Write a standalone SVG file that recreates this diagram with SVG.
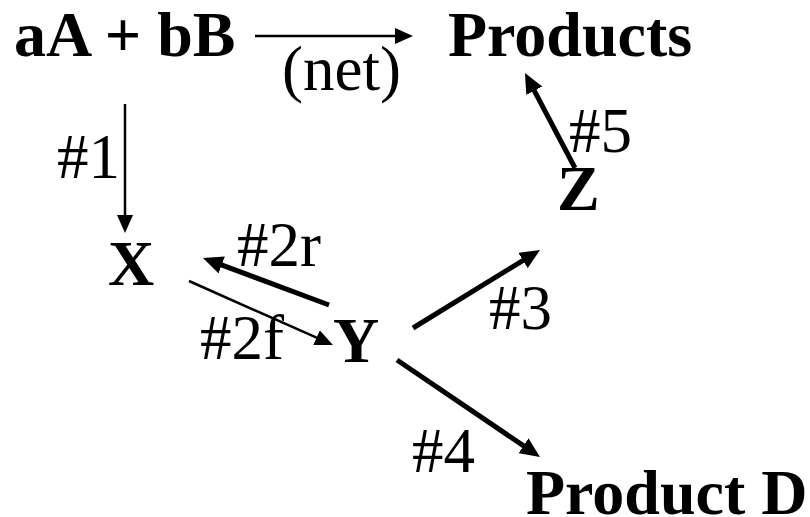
<svg xmlns="http://www.w3.org/2000/svg" width="810" height="517" viewBox="0 0 810 517">
<style>
.b{font-family:"Liberation Serif","Times New Roman",serif;font-size:64px;font-weight:bold;fill:#000}
.r{font-family:"Liberation Serif","Times New Roman",serif;font-size:63px;fill:#000}
.thin{stroke:#000;stroke-width:2.5;fill:none;marker-end:url(#hs)}
.thick{stroke:#000;stroke-width:5;fill:none;marker-end:url(#hb)}
</style>
<defs>
<marker id="hb" markerUnits="userSpaceOnUse" markerWidth="20" markerHeight="18" refX="6" refY="9" orient="auto" viewBox="0 0 20 18"><path d="M0,0 L20,9 L0,18 z" fill="#000"/></marker>
<marker id="hs" markerUnits="userSpaceOnUse" markerWidth="18" markerHeight="16" refX="5" refY="8" orient="auto" viewBox="0 0 18 16"><path d="M0,0 L18,8 L0,16 z" fill="#000"/></marker>
</defs>
<rect width="810" height="517" fill="#fff"/>
<g id="reactants"><text class="b" x="14" y="56">aA + bB</text></g>
<g id="products"><text class="b" x="448" y="56">Products</text></g>
<g id="X"><text class="b" x="108" y="285">X</text></g>
<g id="Y"><text class="b" x="333" y="362">Y</text></g>
<g id="Z"><text class="b" x="557" y="210">Z</text></g>
<g id="productD"><text class="b" x="526" y="514">Product D</text></g>
<g id="connectors">
<line class="thin" x1="255" y1="36" x2="400" y2="36"/>
<line class="thin" x1="125" y1="104" x2="125" y2="220"/>
<line class="thin" x1="189" y1="281" x2="321.1" y2="339.7"/>
<line class="thick" x1="329" y1="305" x2="216.1" y2="262.9"/>
<line class="thick" x1="413" y1="328" x2="528.1" y2="257.3"/>
<line class="thick" x1="575" y1="168" x2="531.5" y2="85.4"/>
<line class="thick" x1="397" y1="360" x2="528.4" y2="449.1"/>
</g>
<g id="labels">
<text class="r" x="282" y="90">(net)</text>
<text class="r" x="57" y="178">#1</text>
<text class="r" x="237" y="266">#2r</text>
<text class="r" x="200" y="359">#2f</text>
<text class="r" x="489" y="329">#3</text>
<text class="r" x="412" y="472">#4</text>
<text class="r" x="569" y="152">#5</text>
</g>
</svg>
